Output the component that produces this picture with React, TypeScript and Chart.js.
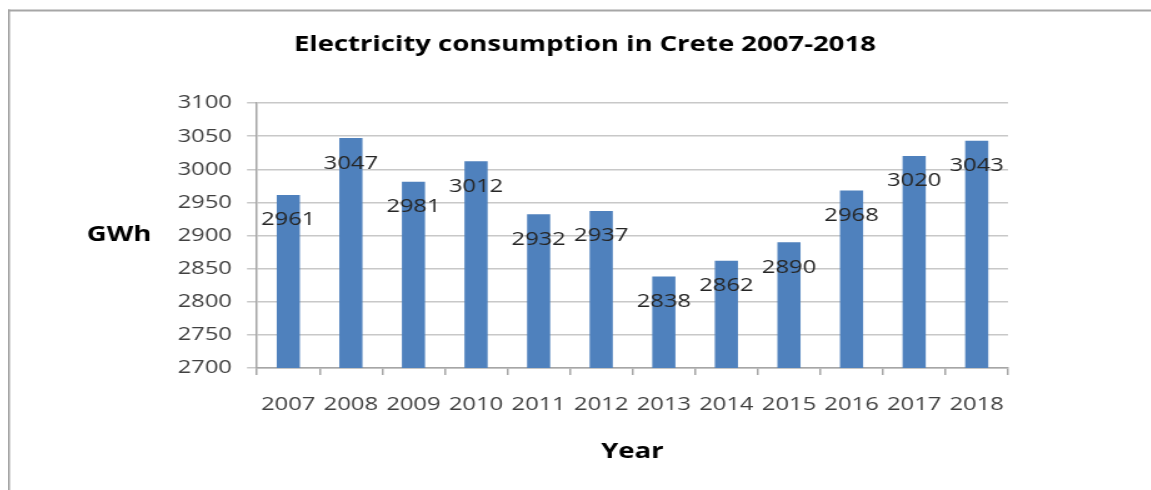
import React, { useEffect, useRef } from "react";
import { Chart, registerables } from "chart.js";

Chart.register(...registerables);

// ---- data ----
const years: string[] = ["2007", "2008", "2009", "2010", "2011", "2012", "2013", "2014", "2015", "2016", "2017", "2018"];
const consumptionGWh: number[] = [2961, 3047, 2981, 3012, 2932, 2937, 2838, 2862, 2890, 2968, 3020, 3043];
const yMin = 2700;
const yMax = 3100;
const yStep = 50;
const chartTitle = "Electricity consumption in Crete 2007-2018";
const yTitle = "GWh";
const xTitle = "Year";

// horizontal stretch of the original picture
const SX = 1.25;
const CW = 1143 / SX;
const CH = 482;
const FONT = "'Open Sans', 'Noto Sans', sans-serif";

const framePlugin = {
  id: "frame",
  beforeDraw(chart: any) {
    const { ctx, width, height } = chart;
    ctx.save();
    ctx.fillStyle = "#a6a6a6";
    ctx.fillRect(0, 1.5, width, 2);
    ctx.fillRect(0, 1.5, 2 / SX, height);
    ctx.restore();
  },
};

const valueLabelPlugin = {
  id: "valueLabels",
  afterDatasetsDraw(chart: any) {
    const { ctx } = chart;
    const meta = chart.getDatasetMeta(0);
    const data = chart.data.datasets[0].data as number[];
    ctx.save();
    ctx.font = `19px ${FONT}`;
    ctx.fillStyle = "#262626";
    ctx.textAlign = "center";
    ctx.textBaseline = "middle";
    meta.data.forEach((el: any, i: number) => {
      ctx.fillText(String(data[i]), el.x, el.y + 25);
    });
    ctx.restore();
  },
};

const yTitlePlugin = {
  id: "yTitleFlat",
  afterDraw(chart: any) {
    const { ctx } = chart;
    const area = chart.chartArea;
    ctx.save();
    ctx.font = `bold 22px ${FONT}`;
    ctx.fillStyle = "#000000";
    ctx.textAlign = "center";
    ctx.textBaseline = "middle";
    ctx.fillText(yTitle, 88.8, (area.top + area.bottom) / 2 - 0.5);
    ctx.restore();
  },
};

export default function App() {
  const canvasRef = useRef<HTMLCanvasElement | null>(null);

  useEffect(() => {
    if (!canvasRef.current) return;
    const chart = new Chart(canvasRef.current, {
      type: "bar",
      data: {
        labels: years,
        datasets: [
          {
            data: consumptionGWh,
            backgroundColor: "#4F81BD",
            borderWidth: 0,
            barPercentage: 0.37,
            categoryPercentage: 1,
          },
        ],
      },
      plugins: [framePlugin, valueLabelPlugin, yTitlePlugin],
      options: {
        animation: false,
        responsive: true,
        maintainAspectRatio: false,
        layout: { padding: { left: 123, right: 114.4, top: 0, bottom: 0 } },
        plugins: {
          legend: { display: false },
          tooltip: { enabled: false },
          title: {
            display: true,
            text: chartTitle,
            color: "#000000",
            font: { family: FONT, size: 22, weight: "bold" },
            padding: { top: 23.8, bottom: 44.8 },
          },
        },
        scales: {
          x: {
            offset: true,
            grid: {
              display: true,
              drawOnChartArea: false,
              drawTicks: true,
              tickLength: 7,
              color: "#a6a6a6",
              lineWidth: 1.5,
              offset: true,
            },
            border: { display: true, color: "#a6a6a6", width: 1.5 },
            ticks: {
              color: "#404040",
              font: { family: FONT, size: 19 },
              padding: 18.6,
              maxRotation: 0,
              autoSkip: false,
            },
            title: {
              display: true,
              text: xTitle,
              color: "#000000",
              font: { family: FONT, size: 22, weight: "bold" },
              padding: { top: 0, bottom: 25.3 },
            },
            afterFit(scale: any) {
              scale.height = 122;
            },
          },
          y: {
            min: yMin,
            max: yMax,
            grid: {
              color: "#c8c8c8",
              lineWidth: 1.5,
              tickLength: 8,
              drawTicks: true,
            },
            border: { display: true, color: "#a6a6a6", width: 1.5 },
            ticks: {
              stepSize: yStep,
              color: "#404040",
              font: { family: FONT, size: 19 },
              padding: 12,
              callback: (v: any) => String(v),
            },
            afterFit(scale: any) {
              scale.width = 199.2 - 123;
            },
          },
        },
      },
    });
    return () => chart.destroy();
  }, []);

  return (
    <div
      style={{
        position: "absolute",
        left: 8,
        top: 8,
        width: CW,
        height: CH,
        transform: `scaleX(${SX})`,
        transformOrigin: "0 0",
      }}
    >
      <canvas ref={canvasRef} />
    </div>
  );
}
